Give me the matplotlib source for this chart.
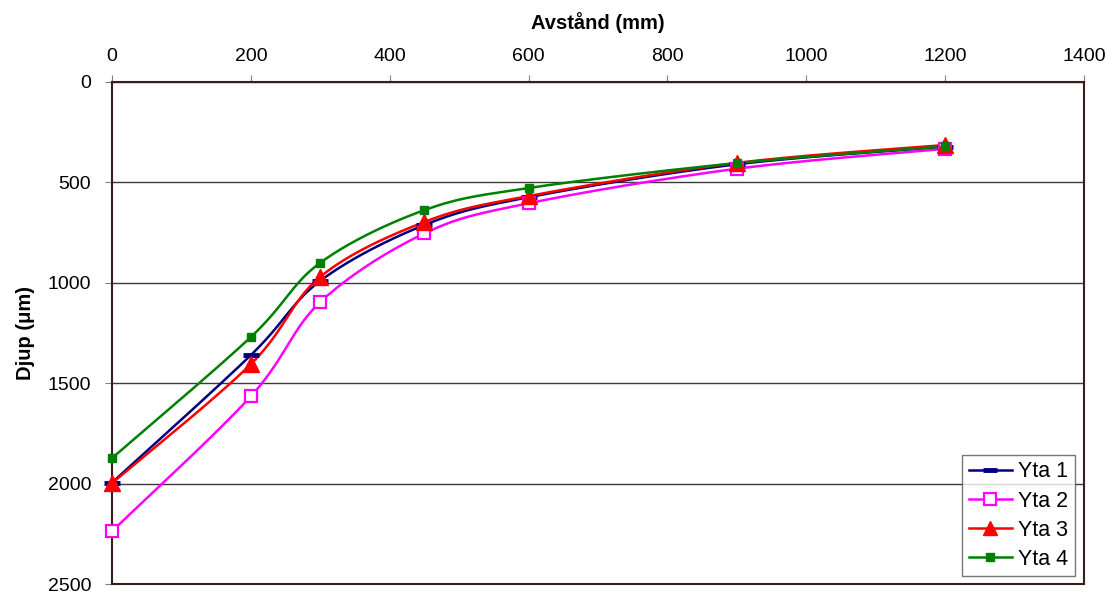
import numpy as np
import matplotlib
matplotlib.use("Agg")
import matplotlib.pyplot as plt

distance = [0, 200, 300, 450, 600, 900, 1200]
yta1 = [1995, 1360, 990, 712, 574, 410, 323]
yta2 = [2237, 1565, 1096, 754, 604, 432, 333]
yta3 = [1998, 1405, 970, 697, 568, 403, 314]
yta4 = [1873, 1270, 900, 638, 528, 404, 321]
series_names = ["Yta 1", "Yta 2", "Yta 3", "Yta 4"]
x_ticks = [0, 200, 400, 600, 800, 1000, 1200, 1400]
y_ticks = [0, 500, 1000, 1500, 2000, 2500]

plt.rcParams['font.family'] = ['Liberation Sans', 'DejaVu Sans']

fig = plt.figure(figsize=(11.16, 5.94), dpi=100)
ax = fig.add_axes([0.1004, 0.0168, 0.8709, 0.8452])
ax.set_xlim(0, 1400)
ax.set_ylim(2500, 0)

# pixel scale for Excel-like smoothing (Catmull-Rom in screen space)
SX = 972 / 1400.0
SY = 502 / 2500.0


def smooth(xs, ys, n=40):
    px = np.array(xs, float) * SX
    py = np.array(ys, float) * SY
    P = np.column_stack([px, py])
    out = []
    for i in range(len(P) - 1):
        p0 = P[i - 1] if i > 0 else P[i]
        p1 = P[i]
        p2 = P[i + 1]
        p3 = P[i + 2] if i + 2 < len(P) else P[i + 1]
        c1 = p1 + (p2 - p0) / 6.0
        c2 = p2 - (p3 - p1) / 6.0
        t = np.linspace(0, 1, n)[:, None]
        seg = ((1 - t) ** 3) * p1 + 3 * ((1 - t) ** 2) * t * c1 + 3 * (1 - t) * t ** 2 * c2 + t ** 3 * p2
        out.append(seg if i == 0 else seg[1:])
    out = np.vstack(out)
    return out[:, 0] / SX, out[:, 1] / SY


styles = [
    dict(color='#000080', marker='_', ms=11, mew=3.5, mfc='#000080'),
    dict(color='#ff00ff', marker='s', ms=9, mew=1.6, mfc='white'),
    dict(color='#ff0000', marker='^', ms=11, mew=1, mfc='#ff0000'),
    dict(color='#008000', marker='s', ms=6, mew=1, mfc='#008000'),
]

for name, ys, st in zip(series_names, [yta1, yta2, yta3, yta4], styles):
    sx, sy = smooth(distance, ys)
    ax.plot(sx, sy, color=st['color'], lw=1.8, zorder=3, clip_on=False)
    ax.plot(distance, ys, linestyle='none', marker=st['marker'], ms=st['ms'],
            mew=st['mew'], mfc=st['mfc'], mec=st['color'], zorder=4, clip_on=False)
    ax.plot([], [], color=st['color'], lw=1.8, marker=st['marker'], ms=st['ms'] * 0.9,
            mew=st['mew'], mfc=st['mfc'], mec=st['color'], label=name)

ax.set_xticks(x_ticks)
ax.set_yticks(y_ticks)
ax.xaxis.tick_top()
ax.xaxis.set_label_position('top')
ax.tick_params(axis='both', labelsize=14, color='#808080', length=5, direction='out')
ax.tick_params(axis='x', pad=7)
ax.tick_params(axis='y', pad=10)
ax.set_xlabel('Avstånd (mm)', fontsize=14.5, fontweight='bold', labelpad=14)
ax.set_ylabel('Djup (μm)', fontsize=14.5, fontweight='bold', labelpad=9)

ax.yaxis.grid(True, color='#3a3a3a', lw=1)
ax.set_axisbelow(True)
for s in ax.spines.values():
    s.set_color('#3a1c1c')
    s.set_linewidth(1.5)

leg = ax.legend(loc='lower right', bbox_to_anchor=(0.9907, 0.015), fontsize=15.5,
                frameon=True, fancybox=False, edgecolor='#555555', handlelength=2.0,
                handletextpad=0.3, borderpad=0.3, labelspacing=0.38, borderaxespad=0)
leg.get_frame().set_linewidth(1)
leg.set_zorder(10)

fig.savefig('out.png', dpi=100)
